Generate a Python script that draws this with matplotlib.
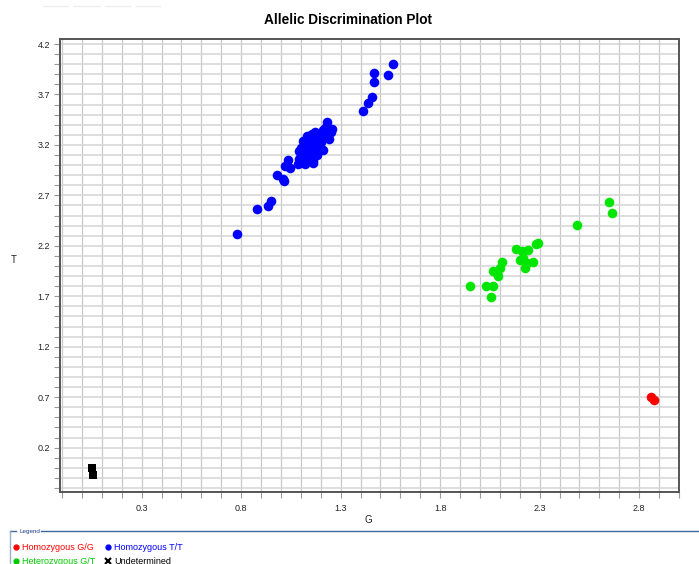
import matplotlib
matplotlib.use("Agg")
import matplotlib.pyplot as plt
from matplotlib.lines import Line2D
import numpy as np

# ---- data ----
tt_g = [0.78, 0.878, 0.933, 0.948, 0.981, 1.014, 1.012, 1.022, 1.037, 1.047, 1.084, 1.121, 1.159,
        1.411, 1.439, 1.456, 1.467, 1.467, 1.538, 1.563,
        1.09, 1.10, 1.11, 1.12, 1.13, 1.10, 1.12, 1.14, 1.15, 1.13, 1.15, 1.16, 1.17, 1.18, 1.16,
        1.17, 1.19, 1.18, 1.20, 1.21, 1.20, 1.22, 1.23, 1.22, 1.24, 1.25, 1.233, 1.255, 1.243,
        1.19, 1.21, 1.14, 1.11, 1.09, 1.12, 1.16, 1.18, 1.15, 1.13, 1.17, 1.154, 1.213, 1.196, 1.104]
tt_t = [2.32, 2.565, 2.594, 2.644, 2.899, 2.839, 2.865, 2.994, 3.05, 2.968, 3.008, 3.008, 3.018,
        3.539, 3.618, 3.678, 3.826, 3.916, 3.893, 3.999,
        3.06, 3.10, 3.13, 3.08, 3.15, 3.17, 3.20, 3.12, 3.18, 3.22, 3.25, 3.21, 3.15, 3.20, 3.28,
        3.24, 3.27, 3.30, 3.23, 3.28, 3.32, 3.30, 3.34, 3.37, 3.36, 3.33, 3.424, 3.358, 3.256,
        3.17, 3.15, 3.29, 3.24, 3.14, 3.04, 3.04, 3.10, 3.08, 3.29, 3.33, 3.308, 3.348, 3.15, 3.15]

gt_g = [1.948, 2.029, 2.064, 2.055, 2.067, 2.092, 2.084, 2.109, 2.100, 2.181, 2.209, 2.201,
        2.226, 2.243, 2.268, 2.281, 2.293, 2.218, 2.235, 2.488, 2.648, 2.662]
gt_t = [1.799, 1.805, 1.805, 1.696, 1.950, 1.901, 1.927, 2.036, 1.977, 2.165, 2.148, 2.059,
        1.977, 2.158, 2.042, 2.215, 2.231, 2.076, 2.026, 2.406, 2.637, 2.522]

gg_g = [2.857, 2.875]
gg_t = [0.697, 0.667]

und_g = [0.050, 0.055]
und_t = [-0.002, -0.072]

x_ticks = [0.3, 0.8, 1.3, 1.8, 2.3, 2.8]
y_ticks = [0.2, 0.7, 1.2, 1.7, 2.2, 2.7, 3.2, 3.7, 4.2]

legend_labels = ["Homozygous G/G", "Homozygous T/T", "Heterozygous G/T", "Undetermined"]

# ---- figure ----
plt.rcParams['font.family'] = ['Liberation Sans', 'DejaVu Sans']
W, H = 699, 564
fig = plt.figure(figsize=(W / 100, H / 100), dpi=100)
ax = fig.add_axes([60 / W, 1 - 491.7 / H, (679 - 60) / W, (491.7 - 39) / H])

ax.set_xlim(-0.11, 3.0)
ax.set_ylim(-0.237, 4.25)

minor_x = np.round(np.arange(-0.1, 3.0001, 0.1), 2)
minor_y = np.round(np.arange(-0.2, 4.2001, 0.1), 2)
ax.set_xticks(minor_x, minor=True)
ax.set_yticks(minor_y, minor=True)
ax.set_xticks(x_ticks)
ax.set_yticks(y_ticks)
ax.set_xticklabels([f"{v:.1f}" for v in x_ticks])
ax.set_yticklabels([f"{v:.1f}" for v in y_ticks])
ax.tick_params(which='both', direction='out', length=4, width=0.8, color='#999999',
               labelsize=6.5, labelcolor='#222222')
ax.tick_params(axis='x', which='both', pad=5)
ax.tick_params(axis='y', which='both', pad=3)
ax.grid(which='both', axis='x', color='#c8c8c8', linewidth=0.9)
ax.grid(which='both', axis='y', color='#d4d4d4', linewidth=1.1)
ax.set_axisbelow(True)
for s in ax.spines.values():
    s.set_color('#555555')
    s.set_linewidth(1.4)

ms = 48
ax.scatter(tt_g, tt_t, s=ms, c='#0000ff', zorder=3, linewidths=0)
ax.scatter(gt_g, gt_t, s=ms, c='#00e600', zorder=3, linewidths=0)
ax.scatter(gg_g, gg_t, s=ms, c='#ff0000', zorder=3, linewidths=0)
ax.scatter(und_g, und_t, s=38, c='#000000', marker='s', zorder=3, linewidths=0)

fig.text(348 / W, 1 - 20 / H, "Allelic Discrimination Plot", ha='center', va='center',
         fontsize=9.8, fontweight='bold', color='#000000')
fig.text(14 / W, 1 - 260 / H, "T", ha='center', va='center', fontsize=7, color='#222222')
fig.text(368 / W, 1 - 520 / H, "G", ha='center', va='center', fontsize=7, color='#222222')

# faint artifacts at top-left
for x0, x1 in [(43, 68), (74, 100), (105, 130), (136, 160)]:
    fig.add_artist(Line2D([x0 / W, x1 / W], [1 - 6 / H, 1 - 6 / H], color='#eeeeee', lw=1))

# legend frame
lc = '#3d6a9a'
fig.add_artist(Line2D([10 / W, 16 / W], [1 - 531 / H, 1 - 531 / H], color=lc, lw=1))
fig.add_artist(Line2D([41 / W, 699 / W], [1 - 531 / H, 1 - 531 / H], color=lc, lw=1))
fig.add_artist(Line2D([10 / W, 10 / W], [1 - 531 / H, 0], color='#9ab0c8', lw=1))
fig.text(19 / W, 1 - 531 / H, "Legend", ha='left', va='center', fontsize=4.5, color='#1a3f8a')

entries = [
    (16, 547, '#ff0000', 'o', legend_labels[0]),
    (108, 547, '#0000ff', 'o', legend_labels[1]),
    (16, 561, '#00cc00', 'o', legend_labels[2]),
    (108, 561, '#000000', 'x', legend_labels[3]),
]
for x, y, col, mk, lab in entries:
    if mk == 'o':
        fig.add_artist(Line2D([x / W], [1 - y / H], marker='o', color=col, markersize=3.5, lw=0))
    else:
        fig.add_artist(Line2D([x / W], [1 - y / H], marker='x', color=col, markersize=4,
                              markeredgewidth=1.5, lw=0))
    fig.text((x + 6) / W, 1 - y / H, lab, ha='left', va='center', fontsize=6.5,
             color=col if mk == 'o' else '#000000')

fig.savefig("out.png", dpi=100)
